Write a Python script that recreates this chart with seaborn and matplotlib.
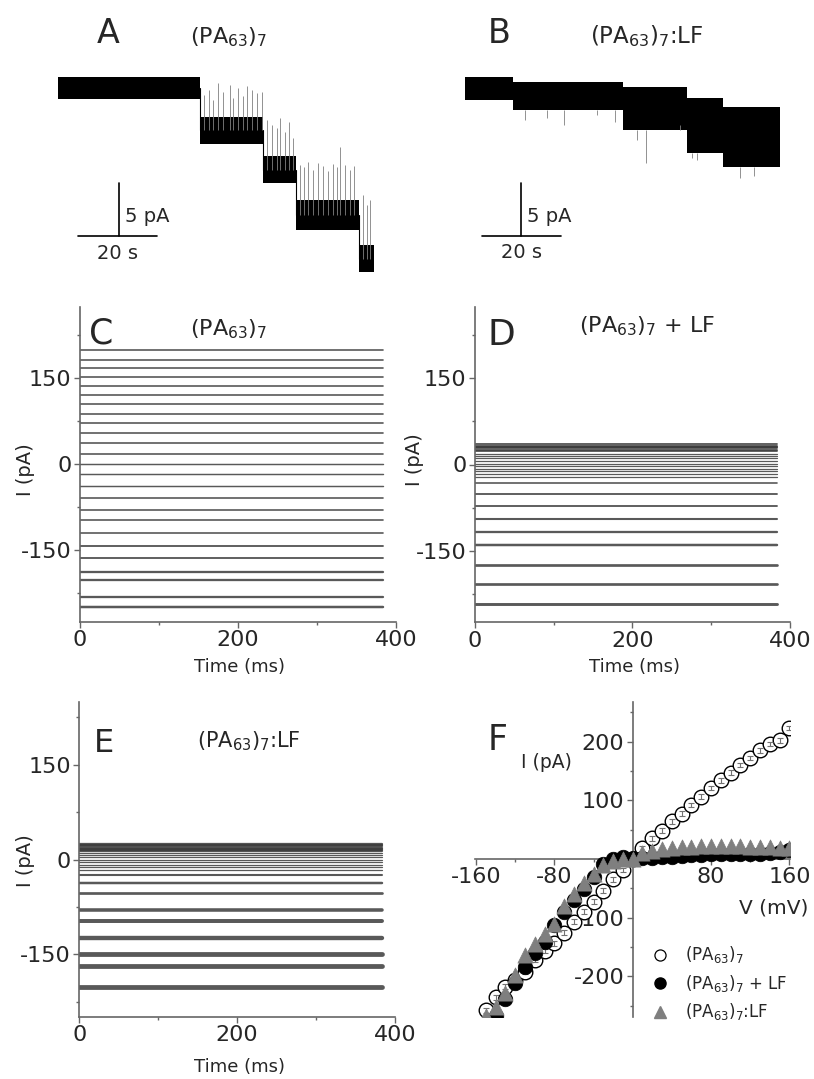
import numpy as np
import pandas as pd
import matplotlib.pyplot as plt
import seaborn as sns
from matplotlib.lines import Line2D
from matplotlib.ticker import FixedLocator

sns.set_style("ticks")
plt.rcParams['font.family'] = ['DejaVu Sans']
plt.rcParams['mathtext.default'] = 'regular'
plt.rcParams['axes.unicode_minus'] = False

# ---------- data ----------
# A: (PA63)7 insertion steps  (time s, current pA)
a_edges = [0, 35.9, 51.9, 60.3, 76.3, 80.0]
a_level = [0, -4.0, -7.7, -12.0, -16.1]
a_hw = [1.05, 1.25, 1.25, 1.4, 1.3]
a_spike_t = [37.0, 38.1, 39.3, 40.6, 41.7, 43.5, 44.4, 45.6, 46.8, 47.8, 49.0, 50.3, 51.6,
             52.8, 54.1, 55.4, 56.2, 57.5, 58.6, 59.6,
             61.3, 62.3, 63.4, 64.6, 65.9, 67.0, 68.4, 69.7, 70.7, 71.4, 72.7, 73.9, 74.9,
             77.3, 78.2, 79.0]
a_spike_top = [-0.66, -0.19, -1.13, 0.47, -0.38, 0.28, -0.94, 0.0, -0.75, 0.19, -0.19, -0.47, -0.38,
               -3.0, -3.5, -3.8, -2.8, -4.2, -3.2, -4.7,
               -7.3, -7.5, -7.0, -7.7, -7.1, -7.4, -7.8, -7.2, -7.5, -5.6, -7.3, -7.7, -7.4,
               -10.1, -11.0, -10.6]

# B: (PA63)7:LF insertion steps
b_edges = [0, 12.2, 40.0, 56.2, 65.3, 79.7]
b_top = [1.08, 0.61, 0.14, -0.9, -1.75]
b_bot = [-1.08, -2.03, -3.92, -6.08, -7.4]
b_spike_t = [15.3, 20.8, 25.0, 33.4, 38.1, 43.5, 45.7, 54.5, 57.5, 58.7, 69.7, 73.1]
b_spike_bot = [-2.97, -2.78, -3.44, -2.5, -3.16, -4.86, -7.03, -3.44, -6.56, -6.75, -8.44, -8.25]

# C/D/E: current trace levels (pA) and noise amplitude (pA)
c_levels = [199, 182, 168, 152, 137, 121, 105, 88, 72, 54, 37, 18, 0, -17.5, -38,
            -58, -79, -97, -119, -143, -164, -188, -202, -232, -249]
c_noise = [2.5] * 12 + [2] * 3 + [2.5] * 4 + [3, 3, 4, 4, 4, 4.5]

d_levels = [35, 33, 31, 30, 28, 26, 24, 19, 14.5, 10.5, 6.3, 1.7, -3, -7, -11, -16, -22,
            -32, -52, -73, -95, -117, -141, -175, -208, -243]
d_noise = [3] * 7 + [1.5] * 10 + [2.5, 3, 3, 3.5, 4, 4.5, 5, 5, 5.5]

e_levels = [25, 23, 21, 19, 17, 15, 13, 10.4, 6.8, 3.6, 0, -3.7, -7.9, -12, -17,
            -24, -37, -53, -80, -98, -125, -149, -168, -202]
e_noise = [4] * 7 + [1.5] * 8 + [3.5, 4.5, 5, 7, 8, 9, 10, 10, 10]
trace_end = 383

# F: I-V relations
volts = [-150, -140, -130, -120, -110, -100, -90, -80, -70, -60, -50, -40, -30, -20, -10, 0,
         10, 20, 30, 40, 50, 60, 70, 80, 90, 100, 110, 120, 130, 140, 150, 160]
i_pa = [-258, -236, -218, -206, -192, -172, -157, -144, -126, -107, -90, -73, -54, -35, -19, 0,
        18, 35, 48, 64, 77, 92, 106, 121, 134, 147, 160, 172, 185, 196, 202, 223]
i_pa_plus_lf = [-295, -268, -238, -212, -184, -161, -141, -113, -90, -70, -52, -30, -8, 0, 3, 2,
                1, 2, 3, 4, 5, 6, 7, 8, 8, 9, 9, 9, 9, 10, 12, 16]
i_pa_lf = [-268, -252, -228, -198, -163, -145, -128, -111, -81, -60, -41, -25, -10, -4, -1, 0,
           10, 14, 17, 19, 20, 21, 22, 22, 22, 22, 22, 21, 21, 20, 19, 18]
i_err = 4

# ---------- figure ----------
W, H = 814, 1079
fig = plt.figure(figsize=(W / 100, H / 100), dpi=100)


def box(l, t, r, b):
    return fig.add_axes([l / W, 1 - b / H, (r - l) / W, (b - t) / H])


def label(x, y, s, size, **kw):
    fig.text(x / W, 1 - y / H, s, fontsize=size, va='baseline', **kw)


PA7 = r'(PA$_{63}$)$_7$'
AXC = '#666666'

# ---- A ----
axA = box(40, 55, 390, 290)
axA.axis('off')
axA.set_xlim(-4.56, 84.05)
axA.set_ylim(-19.06, 3.11)
for i in range(5):
    axA.fill_between([a_edges[i], a_edges[i + 1]], a_level[i] - a_hw[i], a_level[i] + a_hw[i],
                     color='black', lw=0)
    if i < 4:
        axA.plot([a_edges[i + 1]] * 2, [a_level[i], a_level[i + 1]], color='black', lw=0.8)
seg = np.searchsorted(a_edges, a_spike_t) - 1
axA.vlines(a_spike_t, np.array(a_level)[seg], a_spike_top, color='0.5', lw=0.6)
axA.plot([15.4, 15.4], [-8.93, -13.96], color='black', lw=1.2)
axA.plot([5.1, 25.1], [-13.96, -13.96], color='black', lw=1.2)
axA.text(16.9, -12.1, '5 pA', fontsize=14, va='center', ha='left')
axA.text(15.1, -15.6, '20 s', fontsize=14, va='center', ha='center')
label(97, 43, 'A', 24)
label(190, 43, PA7, 16)

# ---- B ----
axB = box(440, 55, 790, 290)
axB.axis('off')
axB.set_xlim(-6.33, 82.28)
axB.set_ylim(-19.0, 3.16)
for i in range(5):
    axB.fill_between([b_edges[i], b_edges[i + 1]], b_bot[i], b_top[i], color='black', lw=0)
seg = np.searchsorted(b_edges, b_spike_t) - 1
axB.vlines(b_spike_t, np.array(b_bot)[seg], b_spike_bot, color='0.5', lw=0.6)
axB.plot([14.25, 14.25], [-8.89, -13.92], color='black', lw=1.2)
axB.plot([4.3, 24.3], [-13.92, -13.92], color='black', lw=1.2)
axB.text(15.6, -12.1, '5 pA', fontsize=14, va='center', ha='left')
axB.text(14.3, -15.5, '20 s', fontsize=14, va='center', ha='center')
label(488, 43, 'B', 24)
label(590, 43, PA7 + ':LF', 16.5)


# ---- C / D / E ----
def draw_traces(ax, levels, noise, ylim, xlab_y, ylab_x, ylab_y):
    n = len(levels)
    df = pd.DataFrame({'t': np.tile([0, trace_end], n),
                       'I': np.repeat(levels, 2),
                       'k': np.repeat(np.arange(n), 2)})
    widths = {k: 0.45 + 0.3 * noise[k] for k in range(n)}
    sns.lineplot(data=df, x='t', y='I', units='k', estimator=None, size='k', sizes=widths,
                 color='#3c3c3c', alpha=0.85, legend=False, ax=ax)
    ax.set_xlim(0, 400)
    ax.set_ylim(*ylim)
    ax.xaxis.set_major_locator(FixedLocator([0, 200, 400]))
    ax.xaxis.set_minor_locator(FixedLocator([100, 300]))
    ax.yaxis.set_major_locator(FixedLocator([-150, 0, 150]))
    ax.yaxis.set_minor_locator(FixedLocator([-225, -75, 75, 225]))
    sns.despine(ax=ax)
    for s in ['left', 'bottom']:
        ax.spines[s].set_color(AXC)
        ax.spines[s].set_linewidth(1.2)
    ax.tick_params(which='major', length=4, width=1, color=AXC, labelsize=16, pad=2)
    ax.tick_params(which='minor', length=2.5, width=1, color=AXC)
    ax.set_xlabel('Time (ms)', fontsize=13)
    ax.set_ylabel('I (pA)', fontsize=14)
    ax.xaxis.label.set_va('center')
    ax.yaxis.label.set_va('center')
    ax.xaxis.set_label_coords(0.506, xlab_y)
    ax.yaxis.set_label_coords(ylab_x, ylab_y)


axC = box(80, 306.7, 396, 622)
draw_traces(axC, c_levels, c_noise, (-275, 275), -0.143, -0.174, 0.482)
label(89, 343, 'C', 25)
label(190, 335, PA7, 16)

axD = box(474.7, 306.7, 790, 622.3)
draw_traces(axD, d_levels, d_noise, (-275, 275), -0.141, -0.192, 0.517)
label(488, 345, 'D', 26)
label(579, 332, PA7 + ' + LF', 16)

axE = box(79.3, 701.7, 395, 1016.7)
draw_traces(axE, e_levels, e_noise, (-249, 250), -0.159, -0.171, 0.497)
label(94, 752, 'E', 23)
label(197, 747, PA7 + ':LF', 15)

# ---- F ----
axF = box(475.1, 701.7, 790.3, 1016.7)
axF.set_xlim(-161, 161)
axF.set_ylim(-269, 268)
sns.scatterplot(x=volts, y=i_pa, marker='o', s=110, facecolor='white', edgecolor='black',
                linewidth=1.0, ax=axF, zorder=2)
axF.errorbar(volts, i_pa, yerr=i_err, fmt='none', ecolor='0.45', elinewidth=0.8,
             capsize=2.5, capthick=0.8, zorder=3)
sns.scatterplot(x=volts, y=i_pa_plus_lf, marker='o', s=110, color='black', edgecolor='black',
                linewidth=0.5, ax=axF, zorder=4)
sns.scatterplot(x=volts, y=i_pa_lf, marker='^', s=120, color='#7f7f7f', edgecolor='#7f7f7f',
                linewidth=0.5, ax=axF, zorder=5)
axF.spines['left'].set_position(('data', 0))
axF.spines['bottom'].set_position(('data', 0))
axF.spines['top'].set_visible(False)
axF.spines['right'].set_visible(False)
for s in ['left', 'bottom']:
    axF.spines[s].set_color(AXC)
    axF.spines[s].set_linewidth(1.2)
axF.xaxis.set_major_locator(FixedLocator([-160, -80, 80, 160]))
axF.xaxis.set_minor_locator(FixedLocator([-120, -40, 40, 120]))
axF.yaxis.set_major_locator(FixedLocator([-200, -100, 100, 200]))
axF.yaxis.set_minor_locator(FixedLocator([-250, -150, -50, 50, 150, 250]))
axF.tick_params(which='major', length=4, width=1, color=AXC, labelsize=16, pad=2)
axF.tick_params(which='minor', length=2.5, width=1, color=AXC)
label(488, 750, 'F', 25)
label(521, 768, 'I (pA)', 13.5)
label(739, 913, 'V (mV)', 14.5)

handles = [Line2D([], [], ls='none', marker='o', ms=8, mfc='white', mec='black', mew=0.9),
           Line2D([], [], ls='none', marker='o', ms=8, mfc='black', mec='black'),
           Line2D([], [], ls='none', marker='^', ms=9, mfc='#7f7f7f', mec='#7f7f7f')]
fig.legend(handles, [PA7, PA7 + ' + LF', PA7 + ':LF'], loc='upper left',
           bbox_to_anchor=(643 / W, 1 - 936 / H), frameon=False, fontsize=12,
           handlelength=1.0, handletextpad=1.0, labelspacing=0.45, borderpad=0)

fig.savefig('out.png', dpi=100)
